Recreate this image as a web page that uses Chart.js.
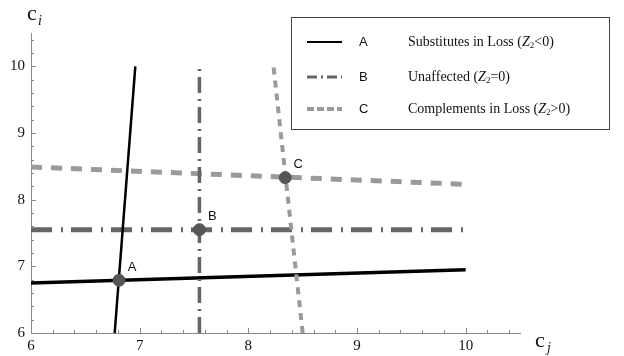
<!DOCTYPE html>
<html lang="en">
<head>
    <meta charset="UTF-8">
    <title>Substitutes and Complements in Loss</title>
    <script src="https://cdn.jsdelivr.net/npm/chart.js"></script>
    <style>
        body { margin: 0; background: #fff; }
    </style>
</head>
<body>
    <canvas id="lossChart" width="624" height="356"></canvas>

    <script>
        // axis ticks
        const xTicks = [6, 7, 8, 9, 10];
        const yTicks = [6, 7, 8, 9, 10];
        const minorStep = 0.2;

        // A: substitutes in loss
        const subsHX = [6, 10];
        const subsHY = [6.75, 6.95];
        const subsVX = [6.77, 6.96];
        const subsVY = [6, 10];

        // B: unaffected
        const unaffHX = [6, 10];
        const unaffHY = [7.55, 7.55];
        const unaffVX = [7.55, 7.55];
        const unaffVY = [6, 10];

        // C: complements in loss
        const compHX = [6, 10];
        const compHY = [8.49, 8.23];
        const compVX = [8.5, 8.23];
        const compVY = [6, 10.02];

        // equilibria
        const eqNames = ['A', 'B', 'C'];
        const eqX = [6.81, 7.55, 8.34];
        const eqY = [6.79, 7.55, 8.33];

        const legendNames = ['Substitutes in Loss (Z₂<0)', 'Unaffected (Z₂=0)', 'Complements in Loss (Z₂>0)'];

        const pts = (xs, ys) => xs.map((x, i) => ({ x: x, y: ys[i] }));

        const colA = '#000000', colB = '#656565', colC = '#9a9a9a';
        const dashB = [21, 9, 2, 8];
        const dashBv = [16, 6, 2, 6];
        const dashC = [11, 9];
        const dashCv = [7, 6];

        function line(data, color, width, dash) {
            return { data: data, showLine: true, borderColor: color, borderWidth: width,
                     borderDash: dash, borderCapStyle: 'butt', pointRadius: 0, fill: false };
        }

        const serif = '"Liberation Serif", "Times New Roman", serif';
        const sans = '"Liberation Sans", Arial, sans-serif';

        const extras = {
            id: 'extras',
            afterDraw(chart) {
                const ctx = chart.ctx;
                const xs = chart.scales.x, ys = chart.scales.y;
                ctx.save();

                // inward tick marks
                ctx.strokeStyle = '#888';
                ctx.lineWidth = 1;
                for (let v = 6; v < 10.5 + 1e-6; v += minorStep) {
                    const major = Math.abs(v - Math.round(v)) < 1e-6;
                    const len = major ? 5 : 3;
                    const px = Math.round(xs.getPixelForValue(v)) + 0.5;
                    const py = Math.round(ys.getPixelForValue(v)) + 0.5;
                    ctx.beginPath();
                    ctx.moveTo(px, xs.top);
                    ctx.lineTo(px, xs.top - len);
                    ctx.moveTo(ys.right, py);
                    ctx.lineTo(ys.right + len, py);
                    ctx.stroke();
                }

                // axis titles
                ctx.fillStyle = '#111';
                ctx.textAlign = 'left';
                ctx.textBaseline = 'alphabetic';
                ctx.font = '22px ' + serif;
                ctx.fillText('c', 27, 20);
                ctx.fillText('c', 535, 347);
                ctx.font = 'italic 14px ' + serif;
                ctx.fillText('i', 38, 25);
                ctx.fillText('j', 547, 352);

                // equilibrium labels
                ctx.font = '13px ' + sans;
                ctx.textAlign = 'center';
                ctx.textBaseline = 'middle';
                eqNames.forEach((n, i) => {
                    ctx.fillText(n, xs.getPixelForValue(eqX[i]) + 13, ys.getPixelForValue(eqY[i]) - 13);
                });

                // legend box
                ctx.strokeStyle = '#444';
                ctx.strokeRect(291.5, 17.5, 318, 112);
                const rows = [42, 77, 109];
                const styles = [[colA, 2, []], [colB, 3, [10, 4, 2, 4]], [colC, 4, [7, 3]]];
                rows.forEach((ry, i) => {
                    ctx.strokeStyle = styles[i][0];
                    ctx.lineWidth = styles[i][1];
                    ctx.setLineDash(styles[i][2]);
                    ctx.beginPath();
                    ctx.moveTo(307, ry);
                    ctx.lineTo(342, ry);
                    ctx.stroke();
                    ctx.setLineDash([]);

                    ctx.fillStyle = '#111';
                    ctx.font = '13px ' + sans;
                    ctx.textAlign = 'left';
                    ctx.textBaseline = 'middle';
                    ctx.fillText(eqNames[i], 359, ry);

                    // text with italic Z and subscript 2
                    const parts = legendNames[i].split('Z₂');
                    let tx = 408;
                    ctx.font = '14px ' + serif;
                    ctx.fillText(parts[0], tx, ry);
                    tx += ctx.measureText(parts[0]).width;
                    ctx.font = 'italic 14px ' + serif;
                    ctx.fillText('Z', tx, ry);
                    tx += ctx.measureText('Z').width;
                    ctx.font = '9px ' + serif;
                    ctx.fillText('2', tx, ry + 4);
                    tx += ctx.measureText('2').width;
                    ctx.font = '14px ' + serif;
                    ctx.fillText(parts[1], tx, ry);
                });
                ctx.restore();
            }
        };

        new Chart(document.getElementById('lossChart'), {
            type: 'scatter',
            data: {
                datasets: [
                    { data: pts(eqX, eqY), pointRadius: 6, pointHoverRadius: 6,
                      backgroundColor: '#555', borderColor: '#555', showLine: false },
                    line(pts(compVX, compVY), colC, 4, dashCv),
                    line(pts(unaffVX, unaffVY), colB, 3.5, dashBv),
                    line(pts(subsVX, subsVY), colA, 2.5, []),
                    line(pts(compHX, compHY), colC, 5, dashC),
                    line(pts(unaffHX, unaffHY), colB, 5, dashB),
                    line(pts(subsHX, subsHY), colA, 3.5, [])
                ]
            },
            options: {
                responsive: false,
                devicePixelRatio: 1,
                animation: false,
                layout: { padding: { left: 0, top: 33, right: 104, bottom: 0 } },
                plugins: { legend: { display: false }, tooltip: { enabled: false } },
                scales: {
                    x: {
                        type: 'linear', min: 6, max: 10.5,
                        grid: { display: false, drawTicks: false },
                        border: { color: '#888', width: 1 },
                        afterBuildTicks: s => { s.ticks = xTicks.map(v => ({ value: v })); },
                        afterFit: s => { s.height = 23; },
                        ticks: { color: '#111', padding: 4, maxRotation: 0, autoSkip: false,
                                 font: { family: serif, size: 15 } }
                    },
                    y: {
                        type: 'linear', min: 6, max: 10.5,
                        grid: { display: false, drawTicks: false },
                        border: { color: '#888', width: 1 },
                        afterBuildTicks: s => { s.ticks = yTicks.map(v => ({ value: v })); },
                        afterFit: s => { s.width = 31; },
                        ticks: { color: '#111', padding: 6, autoSkip: false,
                                 font: { family: serif, size: 15 } }
                    }
                }
            },
            plugins: [extras]
        });
    </script>
</body>
</html>
